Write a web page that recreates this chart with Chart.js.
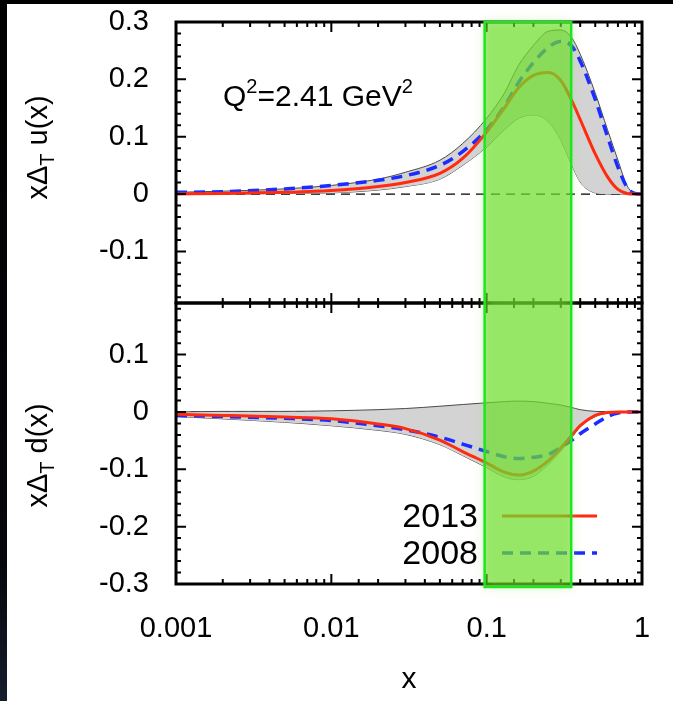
<!DOCTYPE html>
<html>
<head>
<meta charset="utf-8">
<script src="https://cdn.jsdelivr.net/npm/chart.js@4.4.1/dist/chart.umd.min.js"></script>
<style>
  html, body { margin: 0; padding: 0; background: #fff; }
</style>
</head>
<body>
<canvas id="transversity" width="673" height="701"></canvas>
<script>
// x grid the curves were read on
const xs = [0.001, 0.002, 0.005, 0.01, 0.02, 0.03, 0.05, 0.07, 0.1, 0.13, 0.16, 0.2, 0.25, 0.3, 0.35, 0.4, 0.5, 0.6, 0.7, 0.8, 0.9, 1.0]

// top panel: x Delta_T u(x)
const u2013 = [0.0, 0.001, 0.003, 0.006, 0.013, 0.02, 0.036, 0.062, 0.108, 0.15, 0.185, 0.207, 0.212, 0.198, 0.165, 0.13, 0.07, 0.03, 0.008, 0.001, 0, 0]
const u2008 = [0.003, 0.004, 0.009, 0.015, 0.024, 0.032, 0.05, 0.074, 0.112, 0.153, 0.194, 0.229, 0.256, 0.266, 0.259, 0.232, 0.165, 0.1, 0.047, 0.012, 0.001, 0]
const uBandHi = [0.003, 0.005, 0.009, 0.015, 0.026, 0.038, 0.059, 0.088, 0.132, 0.176, 0.224, 0.259, 0.284, 0.286, 0.274, 0.244, 0.176, 0.112, 0.059, 0.015, 0.001, 0]
const uBandLo = [0, 0, 0.001, 0.002, 0.007, 0.013, 0.026, 0.05, 0.082, 0.112, 0.132, 0.138, 0.126, 0.094, 0.053, 0.021, 0.002, 0, 0, 0, 0, 0]

// bottom panel: x Delta_T d(x)
const d2013 = [-0.004, -0.006, -0.009, -0.012, -0.021, -0.029, -0.049, -0.069, -0.089, -0.105, -0.11, -0.103, -0.085, -0.063, -0.042, -0.024, -0.006, -0.001, 0, 0, 0, 0]
const d2008 = [-0.006, -0.008, -0.011, -0.015, -0.024, -0.031, -0.044, -0.056, -0.069, -0.078, -0.081, -0.079, -0.074, -0.062, -0.05, -0.038, -0.021, -0.008, -0.002, 0, 0, 0]
const dBandHi = [0, 0.001, 0.001, 0.002, 0.004, 0.006, 0.01, 0.013, 0.016, 0.018, 0.019, 0.018, 0.015, 0.012, 0.008, 0.004, 0.001, 0, 0, 0, 0, 0]
const dBandLo = [-0.008, -0.012, -0.018, -0.024, -0.032, -0.039, -0.057, -0.076, -0.097, -0.113, -0.118, -0.112, -0.091, -0.068, -0.046, -0.026, -0.008, -0.002, 0, 0, 0, 0]

const seriesNames = ['2013', '2008']
const xTickValues = [0.001, 0.01, 0.1, 1]
const xTickLabels = ['0.001', '0.01', '0.1', '1']
const uRange = [-0.19, 0.3]
const dRange = [-0.3, 0.19]
const greenRange = [0.097, 0.35]

const FONT = "'Liberation Sans', Arial, sans-serif"
const RED = '#ff2a10'
const BLUE = '#1a2cff'

const pts = arr => xs.map((x, i) => ({ x: x, y: arr[i] }))

function curve(label, arr, axis, color, dashed) {
    return {
        label: label,
        data: pts(arr),
        yAxisID: axis,
        borderColor: color,
        borderWidth: dashed ? 3.5 : 3,
        borderDash: dashed ? [11, 7] : [],
        pointRadius: 0,
        fill: false,
        cubicInterpolationMode: 'monotone'
    }
}

function band(arr, axis, fill) {
    return {
        label: 'band',
        data: pts(arr),
        yAxisID: axis,
        borderColor: '#4a4a4a',
        borderWidth: 1,
        backgroundColor: 'rgb(211,211,211)',
        pointRadius: 0,
        fill: fill,
        cubicInterpolationMode: 'monotone'
    }
}

function yLabel(v) {
    if (Math.abs(v * 10 - Math.round(v * 10)) > 1e-6) return ''
    const r = Math.round(v * 10) / 10
    return r === 0 ? '0' : String(r)
}

const isMajorY = v => Math.abs(v * 10 - Math.round(v * 10)) < 1e-6
const isDecade = v => xTickValues.some(t => Math.abs(v / t - 1) < 1e-6)

function yAxis(range) {
    return {
        type: 'linear',
        position: 'left',
        stack: 'panels',
        stackWeight: 1,
        min: range[0],
        max: range[1],
        grid: { display: false },
        border: { display: false },
        ticks: {
            stepSize: 0.02,
            includeBounds: false,
            autoSkip: false,
            padding: 19,
            color: '#000',
            font: { family: FONT, size: 29 },
            callback: yLabel
        },
        afterFit: s => {
            s.width = 176
            s.paddingTop = 0
            s.paddingBottom = 0
        }
    }
}

// white page with the dark strips of the original screenshot
const backdrop = {
    id: 'backdrop',
    beforeDraw(chart) {
        const ctx = chart.ctx
        ctx.save()
        ctx.fillStyle = '#fff'
        ctx.fillRect(0, 0, chart.width, chart.height)
        const g = ctx.createLinearGradient(0, 0, 0, chart.height)
        g.addColorStop(0, '#000')
        g.addColorStop(0.8, '#05070c')
        g.addColorStop(1, '#161d2c')
        ctx.fillStyle = g
        ctx.fillRect(0, 0, 7, chart.height)
        ctx.fillStyle = '#000'
        ctx.fillRect(0, 0, chart.width, 4)
        ctx.restore()
    }
}

const zeroLines = {
    id: 'zeroLines',
    beforeDatasetsDraw(chart) {
        const ctx = chart.ctx, a = chart.chartArea
        ctx.save()
        ctx.strokeStyle = '#000'
        ctx.lineWidth = 1.2
        ctx.setLineDash([9, 6])
        ;['yU', 'yD'].forEach(id => {
            const py = chart.scales[id].getPixelForValue(0)
            ctx.beginPath()
            ctx.moveTo(a.left, py)
            ctx.lineTo(a.right, py)
            ctx.stroke()
        })
        ctx.restore()
    }
}

function drawRich(ctx, parts, x, y) {
    // parts: [text, size, dy]
    let cx = x
    parts.forEach(p => {
        ctx.font = p[1] + 'px ' + FONT
        ctx.fillText(p[0], cx, y + p[2])
        cx += ctx.measureText(p[0]).width
    })
}

function richWidth(ctx, parts) {
    let w = 0
    parts.forEach(p => {
        ctx.font = p[1] + 'px ' + FONT
        w += ctx.measureText(p[0]).width
    })
    return w
}

const decorations = {
    id: 'decorations',
    afterDraw(chart) {
        const ctx = chart.ctx, a = chart.chartArea
        const xS = chart.scales.x, yU = chart.scales.yU, yD = chart.scales.yD
        ctx.save()
        ctx.strokeStyle = '#000'
        ctx.fillStyle = '#000'

        // ticks
        ctx.lineWidth = 2
        ctx.beginPath()
        xS.ticks.forEach(t => {
            const px = xS.getPixelForValue(t.value)
            if (px <= a.left + 1 || px >= a.right - 1) return
            const len = isDecade(t.value) ? 10 : 5
            ;[yU, yD].forEach(s => {
                ctx.moveTo(px, s.top); ctx.lineTo(px, s.top + len)
                ctx.moveTo(px, s.bottom); ctx.lineTo(px, s.bottom - len)
            })
        })
        ;[yU, yD].forEach(s => {
            s.ticks.forEach(t => {
                const py = s.getPixelForValue(t.value)
                if (py <= s.top + 1 || py >= s.bottom - 1) return
                const len = isMajorY(t.value) ? 10 : 5
                ctx.moveTo(a.left, py); ctx.lineTo(a.left + len, py)
                ctx.moveTo(a.right, py); ctx.lineTo(a.right - len, py)
            })
        })
        ctx.stroke()

        // frames
        ctx.lineWidth = 3
        ;[yU, yD].forEach(s => ctx.strokeRect(a.left, s.top, a.right - a.left, s.bottom - s.top))

        // Q^2 label
        ctx.textBaseline = 'alphabetic'
        ctx.textAlign = 'left'
        drawRich(ctx, [['Q', 30, 0], ['2', 20, -13], ['=2.41 GeV', 30, 0], ['2', 20, -13]], a.left + 47, yU.top + 84)

        // y titles with subscript T
        const titles = [[yU, ' u(x)', -15], [yD, ' d(x)', 12]]
        titles.forEach(tt => {
            const s = tt[0]
            const parts = [['x\u0394', 29, 0], ['T', 20, 7], [tt[1], 29, 0]]
            const w = richWidth(ctx, parts)
            ctx.save()
            ctx.translate(47, (s.top + s.bottom) / 2 + tt[2])
            ctx.rotate(-Math.PI / 2)
            ctx.textBaseline = 'alphabetic'
            drawRich(ctx, parts, -w / 2, 0)
            ctx.restore()
        })

        // legend
        const ds = chart.data.datasets
        ctx.font = '34px ' + FONT
        ctx.textAlign = 'right'
        ctx.textBaseline = 'middle'
        seriesNames.forEach((name, i) => {
            const d = ds.find(e => e.label === name)
            const py = yD.bottom - 68 + i * 37
            ctx.fillStyle = '#000'
            ctx.fillText(name, a.left + 302, py + 2)
            ctx.strokeStyle = d.borderColor
            ctx.lineWidth = d.borderWidth
            ctx.setLineDash(d.borderDash)
            ctx.beginPath()
            ctx.moveTo(a.left + 326, py)
            ctx.lineTo(a.left + 421, py)
            ctx.stroke()
        })
        ctx.setLineDash([])

        // green highlight box
        const gx0 = xS.getPixelForValue(greenRange[0])
        const gx1 = xS.getPixelForValue(greenRange[1])
        ctx.save()
        ctx.shadowColor = 'rgba(150,235,110,0.9)'
        ctx.shadowBlur = 10
        ctx.fillStyle = 'rgba(91,215,11,0.5)'
        ctx.fillRect(gx0, a.top, gx1 - gx0, a.bottom - a.top + 3)
        ctx.restore()
        ctx.strokeStyle = '#1ee61e'
        ctx.lineWidth = 2.5
        ctx.strokeRect(gx0, a.top, gx1 - gx0, a.bottom - a.top + 3)
        ctx.restore()
    }
}

const ctx = document.getElementById('transversity').getContext('2d')
const chart = new Chart(ctx, {
    type: 'line',
    data: {
        datasets: [
            curve('2013', u2013, 'yU', RED, false),
            curve('2008', u2008, 'yU', BLUE, true),
            curve('d2013', d2013, 'yD', RED, false),
            curve('d2008', d2008, 'yD', BLUE, true),
            band(uBandHi, 'yU', '+1'),
            band(uBandLo, 'yU', false),
            band(dBandHi, 'yD', '+1'),
            band(dBandLo, 'yD', false)
        ]
    },
    options: {
        responsive: false,
        animation: false,
        devicePixelRatio: 1,
        layout: { padding: { top: 22, right: 31, left: 0, bottom: 0 } },
        plugins: {
            legend: { display: false },
            tooltip: { enabled: false }
        },
        scales: {
            x: {
                type: 'logarithmic',
                min: 0.001,
                max: 1,
                grid: { display: false },
                border: { display: false },
                ticks: {
                    autoSkip: false,
                    maxRotation: 0,
                    padding: 20,
                    color: '#000',
                    font: { family: FONT, size: 29 },
                    callback: function (v) {
                        const i = xTickValues.findIndex(t => Math.abs(v / t - 1) < 1e-6)
                        return i < 0 ? '' : xTickLabels[i]
                    }
                },
                title: {
                    display: true,
                    text: 'x',
                    color: '#000',
                    font: { family: FONT, size: 30 },
                    padding: { top: 0, bottom: 3 }
                },
                afterFit: s => {
                    s.height = 117
                    s.paddingLeft = 0
                    s.paddingRight = 0
                }
            },
            yD: yAxis(dRange),
            yU: yAxis(uRange)
        }
    },
    plugins: [backdrop, zeroLines, decorations]
});
</script>
</body>
</html>
